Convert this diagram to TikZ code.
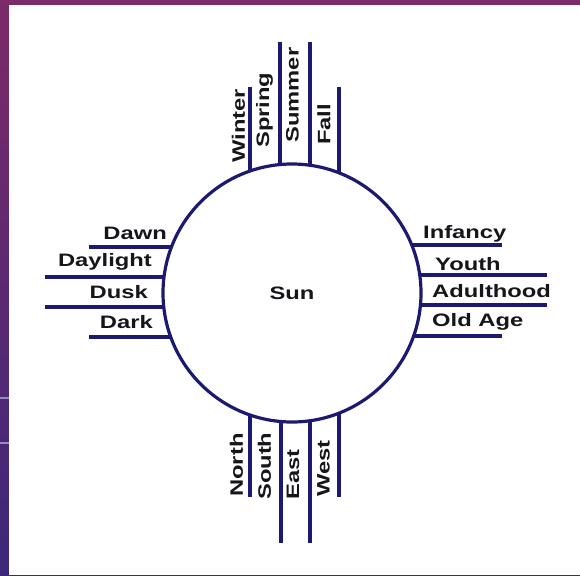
\documentclass[tikz,border=0pt]{standalone}
\usepackage{graphicx}
\usepackage{fontspec}
\setmainfont{Liberation Sans}
\definecolor{navy}{RGB}{28,26,112}
\definecolor{textc}{RGB}{22,22,26}
\definecolor{bgtop}{RGB}{124,42,104}
\definecolor{bgbot}{RGB}{60,40,122}
\definecolor{bandline}{RGB}{150,140,185}
\newcommand{\sx}[1]{\scalebox{1.32}[1]{#1}}
\pgfdeclarelayer{bglayer}
\pgfdeclarelayer{linelayer}
\pgfsetlayers{bglayer,linelayer,main}
\begin{document}
\begin{tikzpicture}[x=1pt,y=-1pt,
  ray/.style={draw=navy, line width=3.2pt},
  lbl/.style={inner sep=0pt, font=\bfseries\fontsize{18}{18}\selectfont, text=textc},
  vlbl/.style={lbl, rotate=90, anchor=west},
  llbl/.style={lbl, anchor=east},
  rlbl/.style={lbl, anchor=west},
  sunstyle/.style={circle, draw=navy, line width=3.2pt, fill=white, minimum size=258pt, inner sep=0pt, lbl}
]
\useasboundingbox (0,0) rectangle (580,575);
\begin{pgfonlayer}{bglayer}
  \shade[top color=bgtop, bottom color=bgbot] (0,0) rectangle (580,575);
  \fill[white] (9,5) rectangle (580,575);
  \draw[bandline, line width=1.5pt] (0,398) -- (9,398);
  \draw[bandline, line width=1.5pt] (0,443) -- (9,443);
\end{pgfonlayer}

\node[sunstyle] (sun) at (292,293) {\sx{Sun}};

% outer ends of the rays
\coordinate (t1) at (250,87);
\coordinate (t2) at (280,42);
\coordinate (t3) at (310,42);
\coordinate (t4) at (339,87);
\coordinate (b1) at (250,497);
\coordinate (b2) at (281,543);
\coordinate (b3) at (310,543);
\coordinate (b4) at (339,497);
\coordinate (l1) at (89,247);
\coordinate (l2) at (45,277);
\coordinate (l3) at (45,307);
\coordinate (l4) at (89,337);
\coordinate (r1) at (502,245);
\coordinate (r2) at (547,275);
\coordinate (r3) at (547,305);
\coordinate (r4) at (502,336);

\begin{pgfonlayer}{linelayer}
  \foreach \c in {t1,t2,t3,t4,b1,b2,b3,b4}{\draw[ray] (\c) -- (\c |- sun.center);}
  \foreach \c in {l1,l2,l3,l4,r1,r2,r3,r4}{\draw[ray] (\c) -- (\c -| sun.center);}
\end{pgfonlayer}

% top labels
\node[vlbl] (winter) at (238.5,163) {\sx{Winter}};
\node[vlbl] (spring) at (264.5,148) {\sx{Spring}};
\node[vlbl] (summer) at (292.5,143) {\sx{Summer}};
\node[vlbl] (fall)   at (324,145)   {\sx{Fall}};
% bottom labels
\node[vlbl] (north) at (236.5,497) {\sx{North}};
\node[vlbl] (south) at (264.5,500) {\sx{South}};
\node[vlbl] (east)  at (293,500)   {\sx{East}};
\node[vlbl] (west)  at (323.5,497) {\sx{West}};
% left labels
\node[llbl] (dawn)     at (167,233.5) {\sx{Dawn}};
\node[llbl] (daylight) at (152,261.5) {\sx{Daylight}};
\node[llbl] (dusk)     at (148,292.5) {\sx{Dusk}};
\node[llbl] (dark)     at (153,322.5) {\sx{Dark}};
% right labels
\node[rlbl] (infancy)   at (423,233.5) {\sx{Infancy}};
\node[rlbl] (youth)     at (435,264)   {\sx{Youth}};
\node[rlbl] (adulthood) at (432,291)   {\sx{Adulthood}};
\node[rlbl] (oldage)    at (432,322)   {\sx{Old Age}};
\end{tikzpicture}
\end{document}
